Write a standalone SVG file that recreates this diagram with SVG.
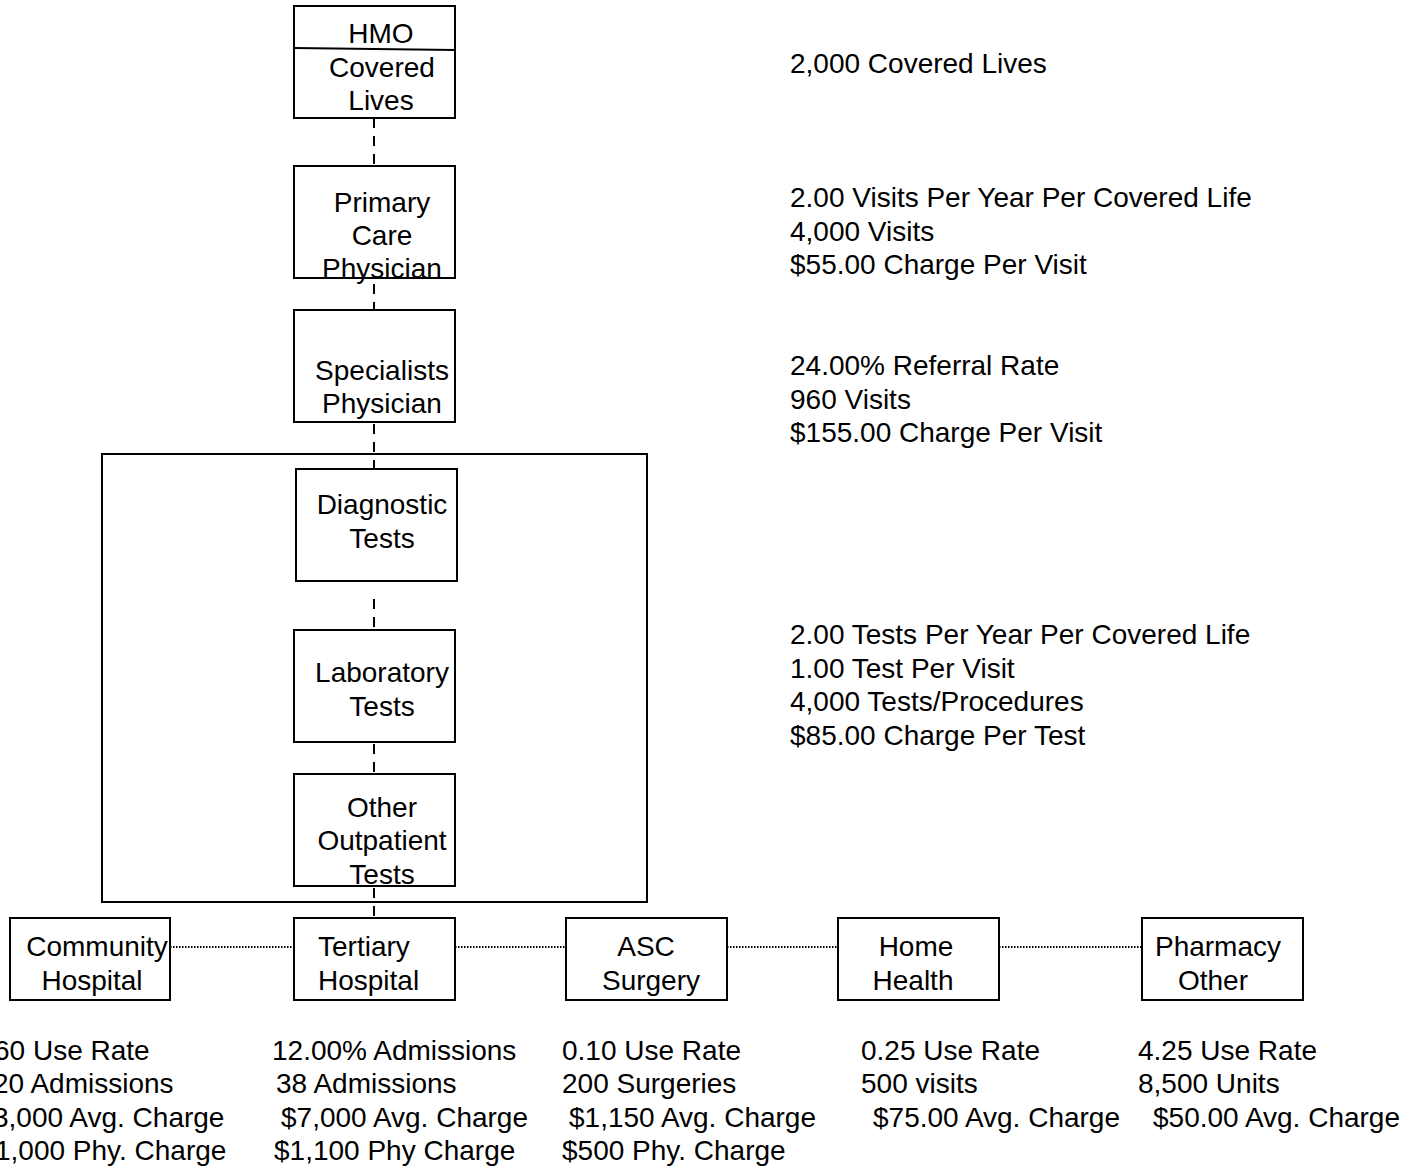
<svg xmlns="http://www.w3.org/2000/svg" width="1414" height="1166" viewBox="0 0 1414 1166">
<style>
text{font-family:"Liberation Sans",Arial,sans-serif;font-size:28px;fill:#000}
.c{text-anchor:middle}
.box{fill:#fff;stroke:#000;stroke-width:2}
.dash{stroke:#000;stroke-width:2;stroke-dasharray:10 8;fill:none}
.dot{stroke:#000;stroke-width:2;stroke-dasharray:1.5 1.5;fill:none}
</style>
<rect width="1414" height="1166" fill="#fff"/>
<g id="group-box"><rect x="102" y="454" width="545" height="448" fill="none" stroke="#000" stroke-width="2"/></g>
<g id="connectors">
<line class="dash" x1="374" y1="118" x2="374" y2="166"/>
<line class="dash" x1="374" y1="284" x2="374" y2="310"/>
<line class="dash" x1="374" y1="424" x2="374" y2="469"/>
<line class="dash" x1="374" y1="599" x2="374" y2="630"/>
<line class="dash" x1="374" y1="744" x2="374" y2="774"/>
<line class="dash" x1="374" y1="888" x2="374" y2="918"/>
<line class="dot" x1="170" y1="947" x2="294" y2="947"/>
<line class="dot" x1="455" y1="947" x2="566" y2="947"/>
<line class="dot" x1="727" y1="947" x2="838" y2="947"/>
<line class="dot" x1="999" y1="947" x2="1142" y2="947"/>
</g>
<g id="hmo"><rect class="box" x="294" y="6" width="161" height="112"/><line x1="294" y1="48" x2="455" y2="50" stroke="#000" stroke-width="2"/>
<text class="c" x="381" y="43">HMO</text><text class="c" x="382" y="77">Covered</text><text class="c" x="381" y="110">Lives</text></g>
<g id="pcp"><rect class="box" x="294" y="166" width="161" height="112"/>
<text class="c" x="382" y="212">Primary</text><text class="c" x="382" y="245">Care</text><text class="c" x="382" y="278">Physician</text></g>
<g id="spec"><rect class="box" x="294" y="310" width="161" height="112"/>
<text class="c" x="382" y="380">Specialists</text><text class="c" x="382" y="413">Physician</text></g>
<g id="diag"><rect class="box" x="296" y="469" width="161" height="112"/>
<text class="c" x="382" y="514">Diagnostic</text><text class="c" x="382" y="548">Tests</text></g>
<g id="lab"><rect class="box" x="294" y="630" width="161" height="112"/>
<text class="c" x="382" y="682">Laboratory</text><text class="c" x="382" y="716">Tests</text></g>
<g id="other"><rect class="box" x="294" y="774" width="161" height="112"/>
<text class="c" x="382" y="817">Other</text><text class="c" x="382" y="850">Outpatient</text><text class="c" x="382" y="884">Tests</text></g>
<g id="community"><rect class="box" x="10" y="918" width="160" height="82"/>
<text class="c" x="97" y="956">Community</text><text class="c" x="92" y="990">Hospital</text></g>
<g id="tertiary"><rect class="box" x="294" y="918" width="161" height="82"/>
<text x="318" y="956">Tertiary</text><text x="318" y="990">Hospital</text></g>
<g id="asc"><rect class="box" x="566" y="918" width="161" height="82"/>
<text class="c" x="646" y="956">ASC</text><text class="c" x="651" y="990">Surgery</text></g>
<g id="home"><rect class="box" x="838" y="918" width="161" height="82"/>
<text class="c" x="916" y="956">Home</text><text class="c" x="913" y="990">Health</text></g>
<g id="pharmacy"><rect class="box" x="1142" y="918" width="161" height="82"/>
<text class="c" x="1218" y="956">Pharmacy</text><text class="c" x="1213" y="990">Other</text></g>
<g id="stats-right">
<text x="790" y="73">2,000 Covered Lives</text>
<text x="790" y="207">2.00 Visits Per Year Per Covered Life</text>
<text x="790" y="241">4,000 Visits</text>
<text x="790" y="274">$55.00 Charge Per Visit</text>
<text x="790" y="375">24.00% Referral Rate</text>
<text x="790" y="409">960 Visits</text>
<text x="790" y="442">$155.00 Charge Per Visit</text>
<text x="790" y="644">2.00 Tests Per Year Per Covered Life</text>
<text x="790" y="678">1.00 Test Per Visit</text>
<text x="790" y="711">4,000 Tests/Procedures</text>
<text x="790" y="745">$85.00 Charge Per Test</text>
</g>
<g id="stats-bottom">
<text x="-6" y="1060">60 Use Rate</text>
<text x="-7" y="1093">20 Admissions</text>
<text x="-7" y="1127">3,000 Avg. Charge</text>
<text x="-5" y="1160">1,000 Phy. Charge</text>
<text x="272" y="1060">12.00% Admissions</text>
<text x="276" y="1093">38 Admissions</text>
<text x="281" y="1127">$7,000 Avg. Charge</text>
<text x="274" y="1160">$1,100 Phy Charge</text>
<text x="562" y="1060">0.10 Use Rate</text>
<text x="562" y="1093">200 Surgeries</text>
<text x="569" y="1127">$1,150 Avg. Charge</text>
<text x="562" y="1160">$500 Phy. Charge</text>
<text x="861" y="1060">0.25 Use Rate</text>
<text x="861" y="1093">500 visits</text>
<text x="873" y="1127">$75.00 Avg. Charge</text>
<text x="1138" y="1060">4.25 Use Rate</text>
<text x="1138" y="1093">8,500 Units</text>
<text x="1153" y="1127">$50.00 Avg. Charge</text>
</g>
</svg>
